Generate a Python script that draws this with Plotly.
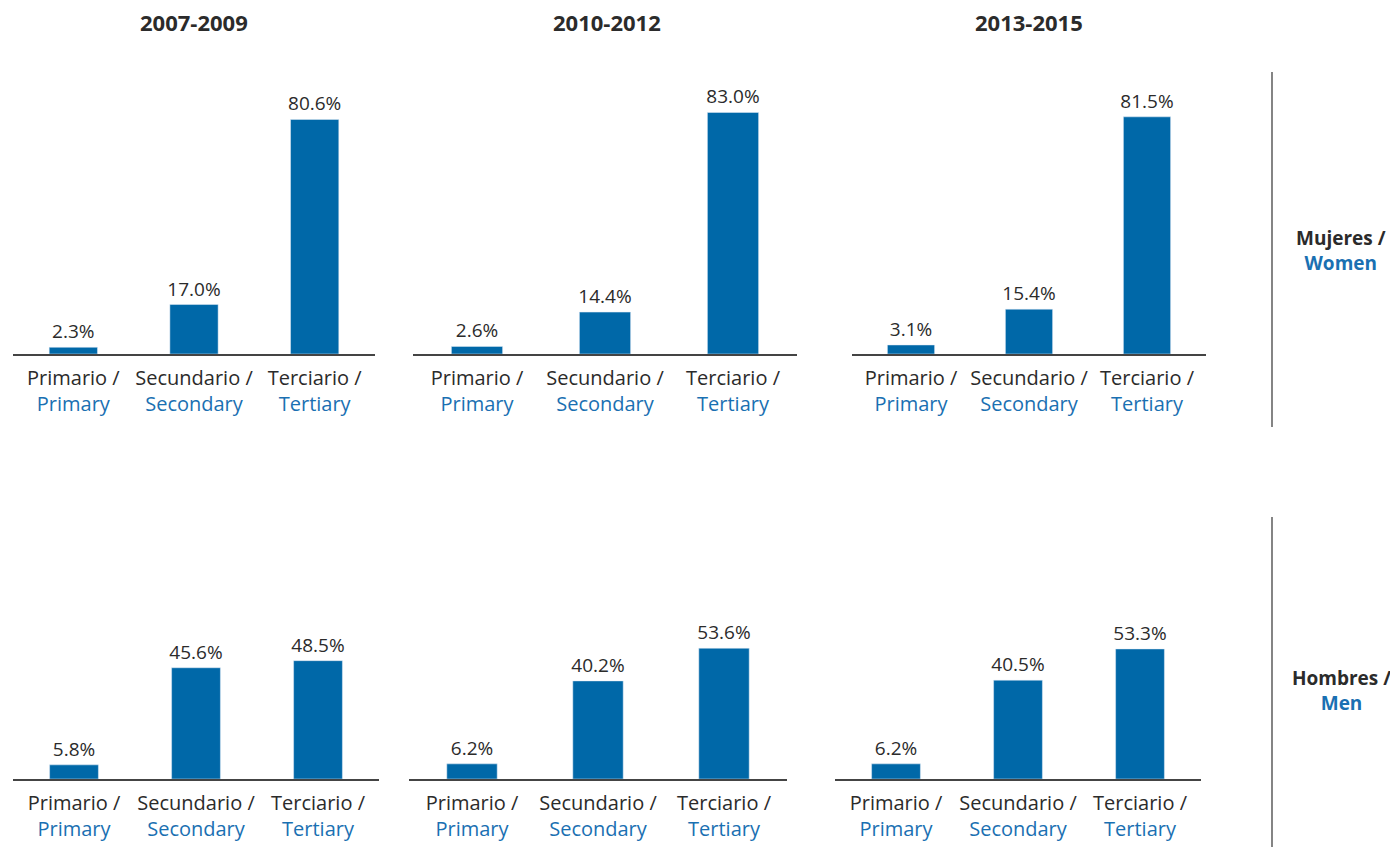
import plotly.graph_objects as go
from plotly.subplots import make_subplots

periods = ["2007-2009", "2010-2012", "2013-2015"]
levels_es = ["Primario", "Secundario", "Terciario"]
levels_en = ["Primary", "Secondary", "Tertiary"]
women = [[2.3, 17.0, 80.6], [2.6, 14.4, 83.0], [3.1, 15.4, 81.5]]
men = [[5.8, 45.6, 48.5], [6.2, 40.2, 53.6], [6.2, 40.5, 53.3]]
groups_es = ["Mujeres", "Hombres"]
groups_en = ["Women", "Men"]

BAR = "#0068a8"
BLUE = "#1a70b2"
DARK = "#2b2b2b"
FONT = "Open Sans"
W, H = 1398, 847
OFF = 8  # page body margin


def px(x):
    return (x - OFF) / W


def py(y):
    return 1 - (y - OFF) / H


ticktext = [f"{es} /<br><span style='color:{BLUE}'>{en}</span>"
            for es, en in zip(levels_es, levels_en)]

fig = make_subplots(rows=2, cols=3)

for r, data in enumerate([women, men]):
    for c, vals in enumerate(data):
        fig.add_trace(go.Bar(
            x=levels_es, y=vals, marker_color=BAR, width=0.4,
            text=[f"{v:.1f}%" for v in vals], textposition="outside",
            constraintext="none",
            textfont=dict(size=19, color=DARK, family=FONT),
            cliponaxis=False, showlegend=False), row=r + 1, col=c + 1)

# panel positions in pixels
xdom = [[(13, 375), (413, 797), (852, 1206)],
        [(13, 379), (409, 787), (835, 1201)]]
ydom = [(354, 63), (779, 535)]

for r in range(2):
    for c in range(3):
        n = r * 3 + c + 1
        x0, x1 = xdom[r][c]
        yb, yt = ydom[r]
        fig.update_layout({
            f"xaxis{n if n > 1 else ''}": dict(
                domain=[px(x0), px(x1)], showline=True, linecolor="#444",
                linewidth=1.5, showgrid=False, zeroline=False, ticks="",
                tickmode="array", tickvals=levels_es, ticktext=ticktext,
                tickfont=dict(size=20, color=DARK, family=FONT),
                ticklabelstandoff=5, range=[-0.5, 2.5]),
            f"yaxis{n if n > 1 else ''}": dict(
                domain=[py(yb), py(yt)], range=[0, 100],
                visible=False, showgrid=False, zeroline=False),
        })

centers = [194, 607, 1029]
for p, cx in zip(periods, centers):
    fig.add_annotation(x=px(cx), y=py(22), xref="paper", yref="paper",
                       xanchor="center", yanchor="middle",
                       text=f"<b>{p}</b>", showarrow=False,
                       font=dict(size=22, color=DARK, family=FONT))

for ges, gen, cy, (ly0, ly1) in zip(groups_es, groups_en, [250, 690],
                                    [(72, 427), (517, 855)]):
    fig.add_annotation(x=px(1341), y=py(cy), xref="paper", yref="paper",
                       xanchor="center", yanchor="middle",
                       text=f"<b>{ges} /</b><br><b><span style='color:{BLUE}'>{gen}</span></b>",
                       showarrow=False, align="center",
                       font=dict(size=19, color=DARK, family=FONT))
    fig.add_shape(type="line", xref="paper", yref="paper",
                  x0=px(1272), x1=px(1272), y0=py(ly0), y1=py(ly1),
                  line=dict(color="#333", width=1.2))

fig.update_layout(width=W, height=H, margin=dict(l=0, r=0, t=0, b=0),
                  plot_bgcolor="white", paper_bgcolor="white",
                  font=dict(family=FONT, color=DARK), bargap=0.6)

fig.write_html("out.html")
